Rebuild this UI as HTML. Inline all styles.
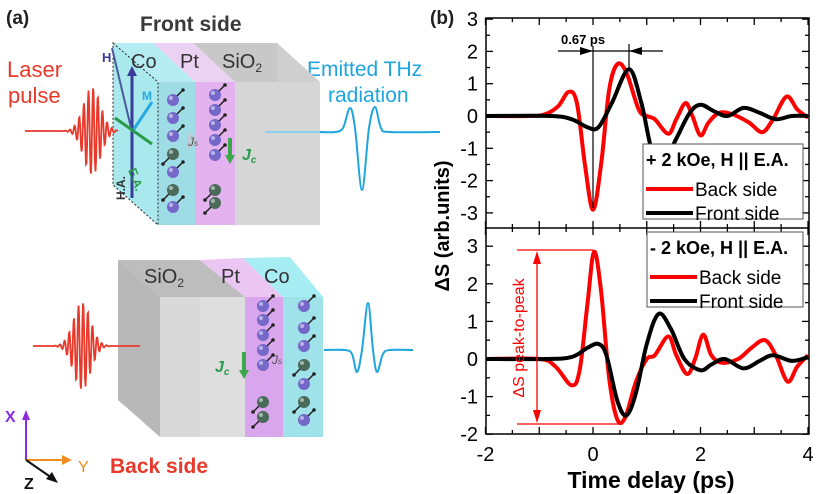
<!DOCTYPE html>
<html><head><meta charset="utf-8"><style>
html,body{margin:0;padding:0;background:#fff}
svg{display:block}
text{font-family:"Liberation Sans",sans-serif}
</style></head><body>
<svg id="s" width="818" height="494" viewBox="0 0 818 494" xmlns="http://www.w3.org/2000/svg">
<text x="6" y="24" font-size="19" font-weight="bold" fill="#222">(a)</text>
<text x="140" y="31" font-size="21" font-weight="bold" fill="#3a3a3a">Front side</text>
<text x="7" y="77" font-size="22" fill="#e8392b">Laser</text>
<text x="8" y="103" font-size="22" fill="#e8392b">pulse</text>
<text x="307" y="76" font-size="21" fill="#1ea5df">Emitted THz</text>
<text x="328" y="102" font-size="21" fill="#1ea5df">radiation</text>

<polygon points="193,43 277,43 320,82 235,82" fill="#c8c8c8"/>
<polygon points="153,43 193,43 235,82 195,82" fill="#ecd2f2"/>
<polygon points="113,43 153,43 195,82 158,82" fill="#b5ecf2"/>
<polygon points="277,43 320,82 320,225 277,190" fill="#cfcfcf"/>
<rect x="235" y="82" width="85" height="143" fill="#d6d6d6"/>
<rect x="195" y="82" width="40" height="143" fill="#e3b2ef"/>
<rect x="158" y="82" width="37" height="143" fill="#9fdde6"/>
<polygon points="113,43 158,82 158,225 113,185" fill="#a9e9ee" stroke="#222" stroke-dasharray="2,2" stroke-width="1"/>
<text x="131" y="68" font-size="20" fill="#333">Co</text>
<text x="180" y="68" font-size="20" fill="#333">Pt</text>
<text x="222" y="68" font-size="20" fill="#333">SiO<tspan font-size="12" dy="4">2</tspan></text>
<line x1="132" y1="198" x2="132" y2="72" stroke="#3a3c9a" stroke-width="3"/>
<polygon points="127,76 132,66 137,76" fill="#3a3c9a"/>
<line x1="132" y1="132" x2="112" y2="48" stroke="#4a5aa0" stroke-width="2"/>
<text x="102" y="62" font-size="13" font-weight="bold" fill="#3a3c9a">H</text>
<line x1="132" y1="132" x2="152" y2="102" stroke="#2aa8e0" stroke-width="3"/>
<text x="142" y="100" font-size="12" font-weight="bold" fill="#2aa8e0">M</text>
<line x1="115" y1="118" x2="152" y2="144" stroke="#2a9a4a" stroke-width="3"/>
<text x="128" y="170" font-size="12" font-weight="bold" fill="#2a9a4a" transform="rotate(70 128 170)">E.A.</text>
<text x="120" y="195" font-size="12" font-weight="bold" fill="#333" transform="rotate(-90 125 195)">H.A.</text>

<g id="topballs"></g>
<polygon points="188,132 200,140 188,150" fill="#c5c5d5" opacity="0.8"/>
<text x="188" y="146" font-size="12" font-style="italic" fill="#555">J<tspan font-size="8">s</tspan></text>
<line x1="230" y1="138" x2="230" y2="158" stroke="#3aa848" stroke-width="4"/>
<polygon points="225,155 230,164 235,155" fill="#3aa848"/>
<text x="242" y="160" font-size="16" font-weight="bold" font-style="italic" fill="#2a9a4a">J<tspan font-size="10" dy="3">c</tspan></text>

<polygon points="118,260 200,260 245,297 160,297" fill="#bdbdbd"/>
<polygon points="200,260 243,258 283,297 245,297" fill="#ecc6f2"/>
<polygon points="243,258 290,257 323,297 283,297" fill="#a6eef4"/>
<polygon points="118,260 160,297 160,437 118,400" fill="#b8b8b8"/>
<rect x="160" y="297" width="85" height="140" fill="#d9d9d9"/>
<rect x="200" y="297" width="45" height="140" fill="#dedede"/>
<rect x="245" y="297" width="38" height="140" fill="#d9a6ee"/>
<rect x="283" y="297" width="40" height="140" fill="#a0e2ea"/>
<text x="144" y="283" font-size="20" fill="#333">SiO<tspan font-size="12" dy="4">2</tspan></text>
<text x="221" y="283" font-size="20" fill="#333">Pt</text>
<text x="264" y="283" font-size="20" fill="#333">Co</text>
<g id="botballs"></g>
<line x1="244" y1="352" x2="244" y2="372" stroke="#3aa848" stroke-width="4"/>
<polygon points="239,370 244,379 249,370" fill="#3aa848"/>
<text x="215" y="372" font-size="16" font-weight="bold" font-style="italic" fill="#2a9a4a">J<tspan font-size="10" dy="3">c</tspan></text>
<text x="272" y="364" font-size="12" font-style="italic" fill="#555">J<tspan font-size="8">s</tspan></text>

<path id="w1" fill="none" stroke="#e8392b" stroke-width="1.8"/>
<path id="w2" fill="none" stroke="#e8392b" stroke-width="1.8"/>
<path id="t1" fill="none" stroke="#1ea5df" stroke-width="2"/>
<path id="t2" fill="none" stroke="#1ea5df" stroke-width="2"/>
<line x1="265" y1="132" x2="320" y2="132" stroke="#8fd0ee" stroke-width="2"/>

<line x1="26" y1="460" x2="26" y2="418" stroke="#8a2be2" stroke-width="2"/>
<polygon points="22,420 26,410 30,420" fill="#8a2be2"/>
<text x="5" y="422" font-size="16" font-weight="bold" fill="#8a2be2">X</text>
<line x1="26" y1="460" x2="64" y2="460" stroke="#f08c1e" stroke-width="2"/>
<polygon points="62,455 72,460 62,465" fill="#f08c1e"/>
<text x="78" y="472" font-size="16" fill="#f08c1e">Y</text>
<line x1="26" y1="460" x2="52" y2="478" stroke="#111" stroke-width="2"/>
<polygon points="46,479 58,483 52,472" fill="#111"/>
<text x="24" y="489" font-size="16" font-weight="bold" fill="#111">Z</text>
<text x="110" y="473" font-size="21" font-weight="bold" fill="#e8392b">Back side</text>

<text x="430" y="24" font-size="19" font-weight="bold" fill="#222">(b)</text>
<g id="plot"></g>
</svg>
<script>
const NS="http://www.w3.org/2000/svg";
function el(t,a,p){const e=document.createElementNS(NS,t);for(const k in a)e.setAttribute(k,a[k]);(p||document.getElementById('s')).appendChild(e);return e;}
function cr(pts){let d="M"+pts[0][0].toFixed(1)+","+pts[0][1].toFixed(1);
 for(let i=0;i<pts.length-1;i++){const p0=pts[Math.max(0,i-1)],p1=pts[i],p2=pts[i+1],p3=pts[Math.min(pts.length-1,i+2)];
 const c1=[p1[0]+(p2[0]-p0[0])/6,p1[1]+(p2[1]-p0[1])/6],c2=[p2[0]-(p3[0]-p1[0])/6,p2[1]-(p3[1]-p1[1])/6];
 d+=" C"+c1.map(v=>v.toFixed(1))+" "+c2.map(v=>v.toFixed(1))+" "+p2[0].toFixed(1)+","+p2[1].toFixed(1);}return d;}
function laser(cx,cy,A,x0,x1){let d="";for(let x=x0;x<=x1;x+=0.5){const y=cy-A*Math.exp(-Math.pow((x-cx)/12,2))*Math.sin((x-cx)*1.35);d+=(d?"L":"M")+x+","+y.toFixed(1);}return d;}
document.getElementById('w1').setAttribute('d',laser(92,131,44,25,118));
document.getElementById('w2').setAttribute('d',laser(82,346,44,33,140));
document.getElementById('t1').setAttribute('d',cr([[320,132],[335,132],[343,128],[350,108],[355,128],[362,190],[369,128],[375,107],[381,128],[390,132],[440,132]]));
document.getElementById('t2').setAttribute('d',cr([[324,350],[345,350],[352,354],[357,372],[362,350],[368,303],[373,350],[377,372],[383,354],[390,350],[413,350]]));
function ball(g,x,y,c,up){el('circle',{cx:x,cy:y,r:6,fill:c},g);el('circle',{cx:x-2,cy:y-2,r:2,fill:'#fff',opacity:.5},g);
 const sx=x+4*up,sy=y-4*up,ex=x+10*up,ey=y-10*up;
 el('line',{x1:sx,y1:sy,x2:ex,y2:ey,stroke:'#222','stroke-width':1.5},g);
 el('circle',{cx:ex,cy:ey,r:1.8,fill:'#222'},g);}
const tb=document.getElementById('topballs'),bb=document.getElementById('botballs');
const P='#7468c8',G='#4a6a5a';
[[173,100,P,1],[173,118,P,1],[173,136,P,1],[173,154,G,-1],[173,172,P,1],[173,190,G,-1],[173,207,P,1]].forEach(b=>ball(tb,...b));
[[215,95,P,1],[215,110,P,1],[215,125,P,1],[215,140,P,1],[215,155,P,1],[215,190,G,-1],[215,203,G,-1]].forEach(b=>ball(tb,...b));
[[263,306,P,1],[263,320,P,1],[263,335,P,1],[263,350,P,1],[263,365,P,1],[263,402,G,-1],[263,417,G,-1]].forEach(b=>ball(bb,...b));
[[304,306,P,1],[304,328,P,1],[304,346,P,1],[304,365,G,-1],[304,384,P,1],[304,402,G,-1],[304,420,P,1]].forEach(b=>ball(bb,...b));
const g=document.getElementById('plot');
const X=t=>593+t*53.75;
const Y1=v=>116-v*32.3, Y2=v=>359-v*37.6;
const L=486,R=809,T=18,M=228,B=434;
const r1=[[-2,0],[-1.2,0],[-0.9,0.05],[-0.65,0.3],[-0.45,0.75],[-0.3,0.4],[-0.15,-1.5],[0,-2.9],[0.15,-1.5],[0.3,0.8],[0.45,1.6],[0.62,1.35],[0.85,0.2],[1.0,0],[1.15,-0.1],[1.4,-0.55],[1.55,-0.1],[1.72,0.4],[1.85,0],[2.0,-0.6],[2.15,-0.2],[2.35,0.1],[2.6,0.05],[2.9,-0.2],[3.15,-0.5],[3.35,-0.1],[3.6,0.6],[3.8,0.2],[4,-0.05]];
const k1=[[-2,0],[-0.8,0],[-0.4,-0.1],[-0.1,-0.35],[0.1,-0.35],[0.35,0.4],[0.67,1.45],[0.9,0.4],[1.1,-1.1],[1.3,-1.5],[1.55,-0.7],[1.8,0.1],[2.0,0.35],[2.25,0.15],[2.5,0],[2.8,0.25],[3.1,0.1],[3.4,-0.1],[3.7,0],[4,0]];
const r2=[[-2,0],[-1.0,0],[-0.7,-0.2],[-0.4,-0.7],[-0.25,-0.3],[-0.1,1.5],[0.02,2.85],[0.15,1.8],[0.3,-0.5],[0.45,-1.6],[0.6,-1.55],[0.8,-0.6],[1.0,0],[1.15,0.1],[1.4,0.6],[1.55,0.1],[1.75,-0.4],[1.9,0],[2.05,0.65],[2.2,0.1],[2.4,-0.1],[2.7,0],[2.95,0.3],[3.2,0.5],[3.4,0.1],[3.62,-0.6],[3.8,-0.2],[4,0.1]];
const k2=[[-2,0],[-0.9,0],[-0.4,0.05],[-0.1,0.3],[0.1,0.4],[0.25,0.1],[0.45,-1.1],[0.62,-1.5],[0.8,-0.9],[1.0,0.4],[1.22,1.2],[1.45,0.8],[1.7,0],[2.0,-0.3],[2.2,-0.15],[2.45,0],[2.8,-0.25],[3.1,-0.05],[3.35,0.1],[3.7,-0.05],[4,0.05]];
const cp=el('clipPath',{id:'c1'},g);el('rect',{x:L,y:T,width:R-L,height:M-T},cp);
const cp2=el('clipPath',{id:'c2'},g);el('rect',{x:L,y:M,width:R-L,height:B-M},cp2);
const g1=el('g',{'clip-path':'url(#c1)'},g),g2=el('g',{'clip-path':'url(#c2)'},g);
function cv(gg,pts,Yf,col){el('path',{d:cr(pts.map(p=>[X(p[0]),Yf(p[1])])),fill:'none',stroke:col,'stroke-width':4,'stroke-linejoin':'round'},gg);}
cv(g1,r1,Y1,'#f00');cv(g1,k1,Y1,'#000');cv(g2,r2,Y2,'#f00');cv(g2,k2,Y2,'#000');
el('rect',{x:L,y:T,width:R-L,height:B-T,fill:'none',stroke:'#000','stroke-width':1.5},g);
el('line',{x1:L,y1:M,x2:R,y2:M,stroke:'#000','stroke-width':1.5},g);
for(let t=-2;t<=4;t+=0.5){const x=X(t),len=(t%1===0)?7:4;
 [[B,-1],[M,-1],[M,1],[T,1]].forEach(([y,s])=>el('line',{x1:x,y1:y,x2:x,y2:y+s*len,stroke:'#000','stroke-width':1.3},g));}
[-2,0,2,4].forEach(t=>el('text',{x:X(t),y:461,'font-size':20,'text-anchor':'middle'},g).textContent=String(t));
for(let v=-3;v<=3;v+=0.5){const y=Y1(v);if(y<T||y>M)continue;const len=(v%1===0)?7:4;
 el('line',{x1:L,y1:y,x2:L+len,y2:y,stroke:'#000','stroke-width':1.3},g);el('line',{x1:R,y1:y,x2:R-len,y2:y,stroke:'#000','stroke-width':1.3},g);
 if(v%1===0)el('text',{x:L-8,y:y+7,'font-size':20,'text-anchor':'end'},g).textContent=String(v);}
for(let v=-2;v<=3;v+=0.5){const y=Y2(v);const len=(v%1===0)?7:4;
 el('line',{x1:L,y1:y,x2:L+len,y2:y,stroke:'#000','stroke-width':1.3},g);el('line',{x1:R,y1:y,x2:R-len,y2:y,stroke:'#000','stroke-width':1.3},g);
 if(v%1===0)el('text',{x:L-8,y:y+7,'font-size':20,'text-anchor':'end'},g).textContent=String(v);}
el('text',{x:651,y:488,'font-size':23,'font-weight':'bold','text-anchor':'middle'},g).textContent='Time delay (ps)';
el('text',{x:0,y:0,'font-size':20,'font-weight':'bold','text-anchor':'middle',transform:'translate(449,226) rotate(-90)'},g).textContent='ΔS (arb.units)';
function legend(x,y,w,h,title){el('rect',{x,y,width:w,height:h,fill:'#fff',stroke:'#555','stroke-width':1},g);
 el('text',{x:x+3,y:y+22,'font-size':18,'font-weight':'bold'},g).textContent=title;
 el('line',{x1:x+3,y1:y+45,x2:x+50,y2:y+45,stroke:'#f00','stroke-width':4},g);
 el('text',{x:x+52,y:y+52,'font-size':19},g).textContent='Back side';
 el('line',{x1:x+3,y1:y+69,x2:x+50,y2:y+69,stroke:'#000','stroke-width':4},g);
 el('text',{x:x+52,y:y+76,'font-size':19},g).textContent='Front side';}
legend(643,144,160,75,'+ 2 kOe, H || E.A.');
legend(647,232,156,75,'- 2 kOe, H || E.A.');
el('line',{x1:593,y1:46,x2:593,y2:208,stroke:'#000','stroke-width':1.2},g);
el('line',{x1:629,y1:44,x2:629,y2:70,stroke:'#000','stroke-width':1.2},g);
el('line',{x1:558,y1:51,x2:663,y2:51,stroke:'#000','stroke-width':1.2},g);
el('polygon',{points:'580,47 593,51 580,55'},g);el('polygon',{points:'642,47 629,51 642,55'},g);
el('text',{x:561,y:44,'font-size':13,'font-weight':'bold'},g).textContent='0.67 ps';
el('line',{x1:517,y1:250,x2:593,y2:250,stroke:'#f00','stroke-width':1.3},g);
el('line',{x1:517,y1:424,x2:620,y2:424,stroke:'#f00','stroke-width':1.3},g);
el('line',{x1:537,y1:255,x2:537,y2:419,stroke:'#f00','stroke-width':1.3},g);
el('polygon',{points:'533,264 537,251 541,264',fill:'#f00'},g);el('polygon',{points:'533,410 537,423 541,410',fill:'#f00'},g);
el('text',{x:0,y:0,'font-size':16,fill:'#f00','text-anchor':'middle',transform:'translate(524,338) rotate(-90)'},g).textContent='ΔS peak-to-peak';
</script>
</body></html>
